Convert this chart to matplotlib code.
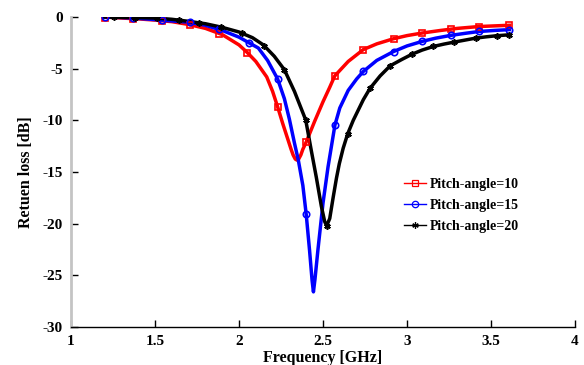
import matplotlib
matplotlib.use("Agg")
import matplotlib.pyplot as plt
from matplotlib.lines import Line2D

# curve samples (GHz, dB)
freq_10 = [1.2, 1.3, 1.4, 1.5, 1.6, 1.7, 1.8, 1.9, 2.0, 2.05, 2.1, 2.165, 2.2, 2.23, 2.26, 2.29,
           2.31, 2.322, 2.335, 2.345, 2.355, 2.368, 2.38, 2.40, 2.45, 2.5, 2.54, 2.57, 2.65, 2.74,
           2.82, 2.92, 3.0, 3.09, 3.2, 3.3, 3.43, 3.52, 3.61]
rl_10 = [0.0, -0.1, -0.18, -0.3, -0.45, -0.72, -1.1, -1.7, -2.7, -3.45, -4.3, -5.8, -7.2, -8.7, -10.3, -11.8,
         -12.8, -13.35, -13.75, -13.85, -13.75, -13.35, -12.8, -12.1, -10.1, -8.2, -6.8, -5.7, -4.3, -3.15,
         -2.6, -2.1, -1.8, -1.55, -1.3, -1.1, -0.92, -0.86, -0.8]

freq_15 = [1.2, 1.3, 1.4, 1.5, 1.6, 1.7, 1.8, 1.9, 2.0, 2.06, 2.115, 2.17, 2.23, 2.27, 2.30, 2.33,
           2.353, 2.38, 2.40, 2.42, 2.435, 2.443, 2.452, 2.47, 2.50, 2.53, 2.571, 2.60, 2.65, 2.70,
           2.74, 2.82, 2.92, 3.0, 3.09, 3.17, 3.26, 3.35, 3.43, 3.52, 3.61]
rl_15 = [0.0, -0.05, -0.13, -0.25, -0.38, -0.5, -0.8, -1.3, -1.95, -2.5, -3.0, -4.2, -6.0, -7.9, -9.9, -12.2,
         -13.85, -16.3, -19.1, -22.6, -25.5, -26.6, -25.4, -22.5, -18.0, -14.5, -10.45, -8.8, -7.1, -6.0,
         -5.27, -4.2, -3.34, -2.8, -2.36, -2.05, -1.78, -1.57, -1.4, -1.3, -1.22]

freq_20 = [1.2, 1.3, 1.4, 1.5, 1.6, 1.7, 1.8, 1.9, 2.0, 2.08, 2.145, 2.21, 2.27, 2.33, 2.397, 2.43,
           2.46, 2.49, 2.51, 2.522, 2.54, 2.56, 2.58, 2.597, 2.62, 2.647, 2.68, 2.74, 2.78, 2.84,
           2.90, 2.97, 3.03, 3.09, 3.157, 3.22, 3.28, 3.35, 3.41, 3.47, 3.535, 3.61]
rl_20 = [0.0, -0.03, -0.06, -0.1, -0.22, -0.42, -0.65, -1.0, -1.45, -2.0, -2.7, -3.8, -5.1, -7.2, -9.96, -12.9,
         -15.5, -18.3, -19.8, -20.2, -19.5, -17.5, -15.6, -14.2, -12.7, -11.3, -10.0, -8.0, -6.9, -5.7,
         -4.72, -4.1, -3.6, -3.2, -2.85, -2.62, -2.43, -2.22, -2.04, -1.92, -1.81, -1.72]

# marker positions
mk_f_10 = [1.2, 1.37, 1.54, 1.71, 1.88, 2.05, 2.23, 2.40, 2.57, 2.74, 2.92, 3.09, 3.26, 3.43, 3.61]
mk_rl_10 = [-0.05, -0.15, -0.35, -0.75, -1.6, -3.45, -8.7, -12.1, -5.7, -3.15, -2.1, -1.55, -1.17, -0.92, -0.82]
mk_f_15 = [1.2, 1.37, 1.54, 1.71, 1.88, 2.06, 2.23, 2.40, 2.571, 2.74, 2.92, 3.09, 3.26, 3.43, 3.61]
mk_rl_15 = [-0.02, -0.1, -0.3, -0.5, -1.2, -2.5, -6.0, -19.1, -10.45, -5.27, -3.34, -2.36, -1.78, -1.4, -1.23]
mk_f_20 = [1.256, 1.38, 1.51, 1.64, 1.76, 1.89, 2.02, 2.15, 2.27, 2.397, 2.522, 2.647, 2.78, 2.90, 3.03,
           3.157, 3.28, 3.41, 3.535, 3.61]
mk_rl_20 = [-0.02, -0.05, -0.1, -0.3, -0.55, -0.97, -1.55, -2.8, -5.1, -9.96, -20.2, -11.3, -6.9, -4.72, -3.6,
            -2.85, -2.43, -2.04, -1.81, -1.72]

labels = ["Pitch-angle=10", "Pitch-angle=15", "Pitch-angle=20"]
x_ticks = [1, 1.5, 2, 2.5, 3, 3.5, 4]
y_ticks = [0, -5, -10, -15, -20, -25, -30]

plt.rcParams["font.family"] = ["Liberation Serif", "DejaVu Serif"]
plt.rcParams["font.weight"] = "bold"
plt.rcParams["axes.unicode_minus"] = False

fig = plt.figure(figsize=(5.84, 3.65), dpi=100)
ax = fig.add_axes([0.1216, 0.1041, 0.863, 0.8493])

asterisk = (6, 2, 0)
series = [
    (freq_10, rl_10, mk_f_10, mk_rl_10, "#ff0000", "s"),
    (freq_15, rl_15, mk_f_15, mk_rl_15, "#0000ff", "o"),
    (freq_20, rl_20, mk_f_20, mk_rl_20, "black", asterisk),
]
handles = []
for (f, r, mf, mr, col, mk), lab in zip(series, labels):
    ax.plot(f, r, color=col, lw=2.5, solid_joinstyle="round", zorder=2)
    ax.plot(mf, mr, ls="none", marker=mk, ms=4.6, mfc="none", mec=col, mew=1.2, zorder=3)
    handles.append(Line2D([], [], color=col, lw=1.0, marker=mk, ms=4.6, mfc="none", mec=col, mew=0.9, label=lab))

ax.set_xlim(1, 4)
ax.set_ylim(-30, 0)
ax.set_xticks(x_ticks)
ax.set_xticklabels(["1", "1.5", "2", "2.5", "3", "3.5", "4"])
ax.set_yticks(y_ticks)
ax.tick_params(direction="in", length=5, width=1, labelsize=11)
ax.tick_params(axis="x", pad=6)
ax.tick_params(axis="y", pad=6)

ax.spines["top"].set_visible(False)
ax.spines["right"].set_visible(False)
ax.spines["left"].set_color("#c4c4c4")
ax.spines["left"].set_linewidth(2)
ax.spines["bottom"].set_linewidth(1)

ax.set_xlabel("Frequency [GHz]", fontsize=11.5, fontweight="bold", labelpad=1)
ax.set_ylabel("Retuen loss [dB]", fontsize=11.5, fontweight="bold", labelpad=6)

leg = ax.legend(handles=handles, loc="upper left", bbox_to_anchor=(0.635, 0.52), frameon=False,
                prop={"size": 10, "weight": "bold"}, handlelength=1.6, handletextpad=0.3,
                labelspacing=0.55)

fig.savefig("out.png", dpi=100)
